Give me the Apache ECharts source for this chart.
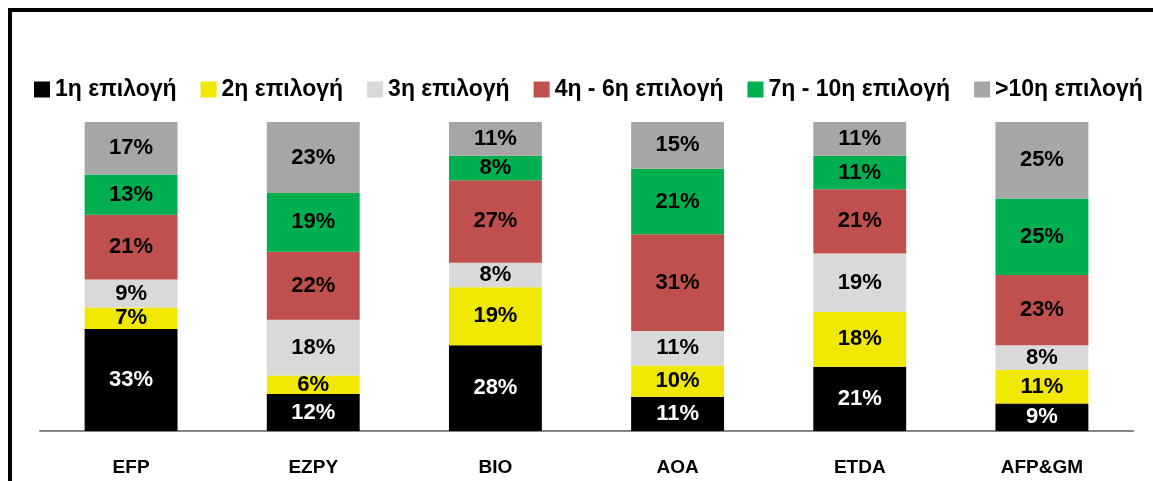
<!DOCTYPE html>
<html>
<head>
<meta charset="utf-8">
<script src="https://cdn.jsdelivr.net/npm/echarts@6/dist/echarts.min.js"></script>
<style>
  html, body { margin: 0; padding: 0; background: #fff; }
  #chart { width: 1153px; height: 481px; }
</style>
</head>
<body>
<div id="chart"></div>
<script>
const categories = ['EFP', 'EZPY', 'BIO', 'AOA', 'ETDA', 'AFP&GM'];
const seriesNames = ['1η επιλογή', '2η επιλογή', '3η επιλογή', '4η - 6η επιλογή', '7η - 10η επιλογή', '>10η επιλογή'];
const choice1 = [33, 12, 28, 11, 21, 9];
const choice2 = [7, 6, 19, 10, 18, 11];
const choice3 = [9, 18, 8, 11, 19, 8];
const choice4to6 = [21, 22, 27, 31, 21, 23];
const choice7to10 = [13, 19, 8, 21, 11, 25];
const choiceOver10 = [17, 23, 11, 15, 11, 25];
const seriesColors = ['#000000', '#f0e800', '#d9d9d9', '#c0504d', '#00b050', '#a6a6a6'];

const allValues = [choice1, choice2, choice3, choice4to6, choice7to10, choiceOver10];
// bars are 100% stacked; labels show the rounded shares
const totals = categories.map((_, i) => allValues.reduce((s, arr) => s + arr[i], 0));

const font = 'Liberation Sans, Arial, sans-serif';

const chart = echarts.init(document.getElementById('chart'), null, { renderer: 'canvas' });

chart.setOption({
  animation: false,
  backgroundColor: '#fff',
  textStyle: { fontFamily: font },
  graphic: [
    { type: 'rect', shape: { x: 8, y: 8, width: 1160, height: 4 }, style: { fill: '#000' } },
    { type: 'rect', shape: { x: 8, y: 8, width: 4, height: 480 }, style: { fill: '#000' } },
  ],
  legend: {
    left: 29,
    top: 73,
    itemWidth: 16,
    itemHeight: 16,
    itemGap: 24,
    icon: 'rect',
    textStyle: { fontSize: 23, fontWeight: 'bold', color: '#000', fontFamily: font },
    data: seriesNames,
  },
  grid: { left: 40, right: 20, top: 122, bottom: 50 },
  xAxis: {
    type: 'category',
    data: categories,
    axisLine: { lineStyle: { color: '#868686', width: 2 } },
    axisTick: { show: false },
    axisLabel: { color: '#000', fontSize: 19, fontWeight: 'bold', margin: 27, fontFamily: font },
  },
  yAxis: {
    type: 'value',
    min: 0,
    max: 100,
    show: false,
  },
  series: allValues.map((arr, k) => ({
    name: seriesNames[k],
    type: 'bar',
    stack: 'total',
    barWidth: '51%',
    itemStyle: { color: seriesColors[k] },
    data: arr.map((v, i) => ({ value: v * 100 / totals[i], raw: v })),
    label: {
      show: true,
      position: 'inside',
      color: k === 0 ? '#fff' : '#000',
      fontSize: 22,
      fontWeight: 'bold',
      fontFamily: font,
      formatter: (p) => p.data.raw + '%',
    },
  })),
});
</script>
</body>
</html>
